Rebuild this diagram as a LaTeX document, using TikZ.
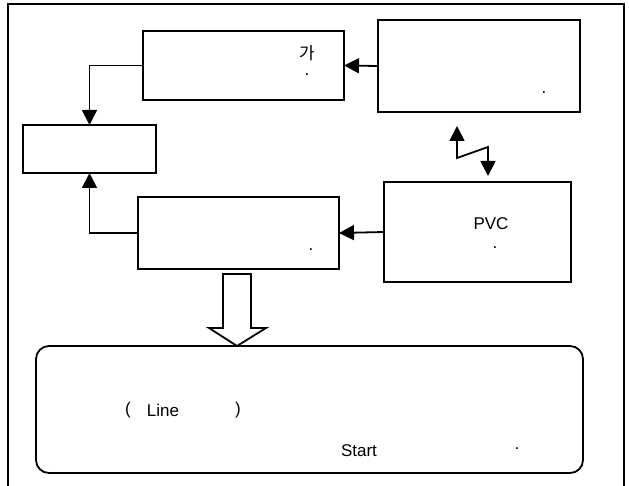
\documentclass[tikz,border=0pt]{standalone}
\usepackage{fontspec}
\setmainfont{Liberation Sans}
\newfontfamily\krfont{Noto Sans CJK KR}
\usepackage{tikz}
\usetikzlibrary{arrows.meta}

\begin{document}
\begin{tikzpicture}[
        x=1pt, y=-1pt,
        font=\fontsize{17}{20}\selectfont,
        box/.style={draw, rectangle, line width=1.8pt, inner sep=0pt, outer sep=0pt},
        note/.style={draw, rectangle, rounded corners=13pt, line width=1.8pt, inner sep=0pt, outer sep=0pt},
        txt/.style={inner sep=0pt},
        arrow/.style={-{Triangle[length=15pt, width=15pt]}, line width=1.8pt},
        twoway/.style={{Triangle[length=15pt, width=15pt]}-{Triangle[length=15pt, width=15pt]}, line width=1.8pt}
    ]
        \useasboundingbox (0,0) rectangle (629,486);
        \draw[line width=1.6pt] (8,495) -- (8,4) -- (624,4) -- (624,495);

        \node (conv) [box, minimum width=201pt, minimum height=69pt] at (243.5,65.5) {};
        \node (site) [box, minimum width=202pt, minimum height=92pt] at (479,66) {};
        \node (store) [box, minimum width=133pt, minimum height=48pt] at (89.5,149) {};
        \node (check) [box, minimum width=201pt, minimum height=72pt] at (238.5,233) {};
        \node (pvc) [box, minimum width=187pt, minimum height=100pt] at (477.5,232) {};
        \node (result) [note, minimum width=547pt, minimum height=127pt] at (309.5,409.5) {};

        % texts
        \node (conv_a) [txt] at (307,53) {\krfont 가};
        \node (conv_b) [txt] at (307,75) {.};
        \node (site_a) [txt] at (544,93) {.};
        \node (check_a) [txt] at (311,250) {.};
        \node (pvc_a) [txt] at (491,224) {PVC};
        \node (pvc_b) [txt] at (495,248) {.};
        \node (res_a) [txt] at (128,410) {(};
        \node (res_b) [txt] at (163,410) {Line};
        \node (res_c) [txt] at (238,410) {)};
        \node (res_d) [txt] at (359,451) {Start};
        \node (res_e) [txt] at (517,449) {.};

        \draw [arrow] (site.west) -- (conv.east);
        \draw [arrow] (conv.west) -| (store.north);
        \draw [arrow] (check.west) -| (store.south);
        \draw [arrow] (pvc.west) -- (check.east);

        \coordinate (zig_top) at (457,126);
        \coordinate (zig_bot) at (488,176);
        \draw [twoway] (zig_top) -- (457,158) -- (488,147) -- (zig_bot);

        % hollow arrow down to result
        \draw [line width=1.8pt, line join=miter] (223,274) -- (251,274) -- (251,328) -- (266,328)
            -- (237,346) -- (209,328) -- (223,328) -- cycle;
    \end{tikzpicture}
\end{document}
